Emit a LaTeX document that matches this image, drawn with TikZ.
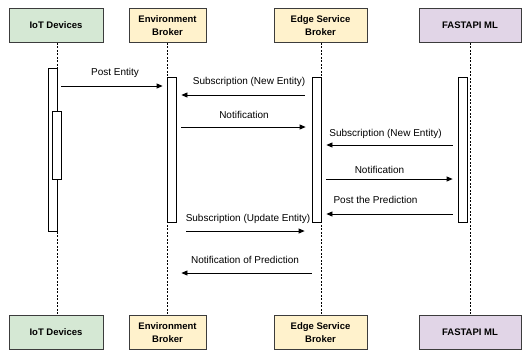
\documentclass[tikz,border=0pt]{standalone}
\usepackage{fontspec}
\setmainfont{Liberation Sans}
\usetikzlibrary{arrows.meta}

\definecolor{iotfill}{HTML}{D5E8D4}
\definecolor{brokerfill}{HTML}{FFF2CC}
\definecolor{mlfill}{HTML}{E1D5E7}
\definecolor{edgegray}{HTML}{3C3C3C}

\tikzset{
  actor/.style={draw=edgegray, line width=0.8pt, minimum height=34pt, align=center,
    font=\fontsize{9.5}{12.5}\selectfont\bfseries, inner sep=1pt},
  bar/.style={draw=black, line width=0.8pt, fill=white, minimum width=9pt, inner sep=0pt, anchor=north},
  life/.style={line width=0.7pt, dash pattern=on 2pt off 1.5pt},
  msg/.style={line width=0.8pt, -{Triangle[length=6pt,width=5pt]}, shorten <=5pt, shorten >=5pt},
  lbl/.style={font=\fontsize{10}{12}\selectfont, above=5pt, midway, inner sep=1pt}
}

\begin{document}
\begin{tikzpicture}[x=1pt,y=-1pt]
\useasboundingbox (0,0) rectangle (522,354);

% Actors, once at the top (t) and once at the bottom (b)
\foreach \p/\y in {t/25.5, b/332.5}
{
  \node[actor, fill=iotfill, minimum width=94pt] (iot\p) at (56,\y) {IoT Devices};
  \node[actor, fill=brokerfill, minimum width=77pt] (env\p) at (167.5,\y) {Environment\\Broker};
  \node[actor, fill=brokerfill, minimum width=93pt] (edge\p) at (320.5,\y) {Edge Service\\Broker};
  \node[actor, fill=mlfill, minimum width=102pt] (ml\p) at (470,\y) {FASTAPI ML};
}

% Lifelines
\draw[life] (57,0 |- iott.south) -- (57,0 |- iotb.north);
\draw[life] (167,0 |- envt.south) -- (167,0 |- envb.north);
\draw[life] (321,0 |- edget.south) -- (321,0 |- edgeb.north);
\draw[life] (470.7,0 |- mlt.south) -- (470.7,0 |- mlb.north);

% Activation bars
\node[bar, minimum height=163pt] (iotbar) at (52.5,68) {};
\node[bar, minimum height=68pt] (iotsub) at (56.5,111) {};
\node[bar, minimum height=145pt] (envbar) at (171.5,77) {};
\node[bar, minimum height=145pt] (edgebar) at (316.5,77) {};
\node[bar, minimum height=145pt] (mlbar) at (462.5,77) {};

% Message rows
\coordinate (m1) at (0,86);
\coordinate (m2) at (0,95);
\coordinate (m3) at (0,127);
\coordinate (m4) at (0,145);
\coordinate (m5) at (0,179);
\coordinate (m6) at (0,214);
\coordinate (m7) at (0,231);
\coordinate (m8) at (0,273);

% Messages
\draw[msg, shorten <=4pt, shorten >=4pt] (iotbar.east |- m1) -- (envbar.west |- m1) node[lbl, above=2pt, xshift=3pt] {Post Entity};
\draw[msg, shorten <=7pt] (edgebar.west |- m2) -- (envbar.east |- m2) node[lbl, above=2pt, xshift=5pt] {Subscription (New Entity)};
\draw[msg, shorten >=6pt] (envbar.east |- m3) -- (edgebar.west |- m3) node[lbl, above=2pt] {Notification};
\draw[msg] (mlbar.west |- m4) -- (edgebar.east |- m4) node[lbl, xshift=-4pt] {Subscription (New Entity)};
\draw[msg] (edgebar.east |- m5) -- (mlbar.west |- m5) node[lbl, above=-1pt, xshift=-10pt] {Notification};
\draw[msg] (mlbar.west |- m6) -- (edgebar.east |- m6) node[lbl, above=4pt, xshift=-14pt] {Post the Prediction};
\draw[msg, shorten <=10pt, shorten >=7pt] (envbar.east |- m7) -- (edgebar.west |- m7) node[lbl, above=1pt, xshift=4pt] {Subscription (Update Entity)};
\draw[msg, shorten <=0pt] (edgebar.west |- m8) -- (envbar.east |- m8) node[lbl, above=3pt, xshift=1pt] {Notification of Prediction};

\end{tikzpicture}
\end{document}
